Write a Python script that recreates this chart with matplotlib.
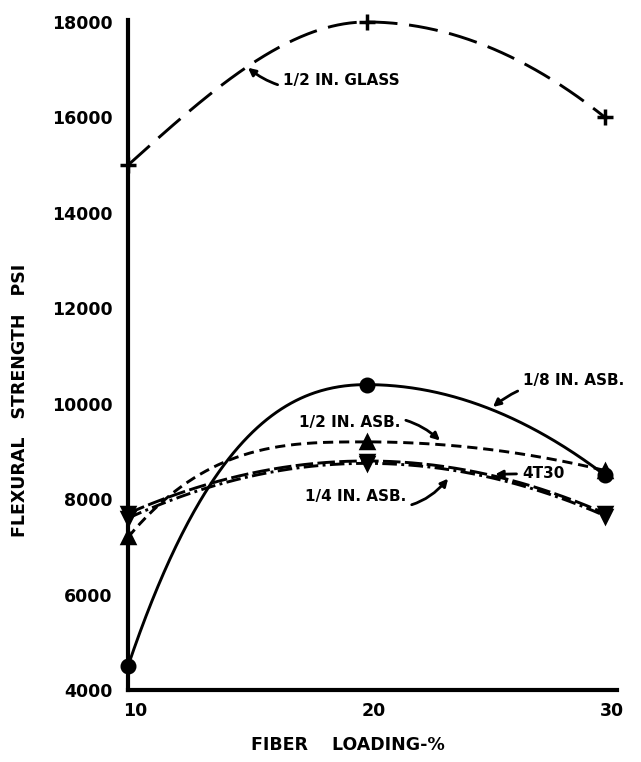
import matplotlib
matplotlib.use("Agg")
import matplotlib.pyplot as plt
import matplotlib.transforms as mtransforms
import numpy as np

# fiber loading (%) and flexural strength (psi)
loading = [10, 20, 30]
glass_half = [15000, 18000, 16000]
asb_eighth = [4500, 10400, 8500]
asb_half = [7200, 9200, 8600]
asb_quarter = [7600, 8750, 7650]
t4_30 = [7700, 8800, 7700]

y_ticks = [4000, 6000, 8000, 10000, 12000, 14000, 16000, 18000]
x_ticks = [10, 20, 30]


def smooth(xs, ys, bend, n=200):
    """Hermite curve through the points, flat at an interior peak."""
    xs = np.asarray(xs, float)
    ys = np.asarray(ys, float)
    sec = np.diff(ys) / np.diff(xs)
    slopes = np.zeros_like(ys)
    for i in range(1, len(xs) - 1):
        if sec[i - 1] * sec[i] > 0:
            slopes[i] = 2 * sec[i - 1] * sec[i] / (sec[i - 1] + sec[i])
    slopes[0] = bend[0] * sec[0]
    slopes[-1] = bend[1] * sec[-1]
    out_x, out_y = [], []
    for i in range(len(xs) - 1):
        h = xs[i + 1] - xs[i]
        t = np.linspace(0, 1, n)
        h00 = 2 * t**3 - 3 * t**2 + 1
        h10 = t**3 - 2 * t**2 + t
        h01 = -2 * t**3 + 3 * t**2
        h11 = t**3 - t**2
        out_x.append(xs[i] + t * h)
        out_y.append(h00 * ys[i] + h10 * h * slopes[i] + h01 * ys[i + 1] + h11 * h * slopes[i + 1])
    return np.concatenate(out_x), np.concatenate(out_y)


plt.rcParams["font.family"] = "DejaVu Sans"
plt.rcParams["font.weight"] = "bold"

fig = plt.figure(figsize=(6.41, 7.62), dpi=100)
ax = fig.add_axes([128 / 641, 72 / 762, 489 / 641, 670.4 / 762])

series = [
    (glass_half, "+", dict(dashes=(10, 4)), (1.5, 2.0)),
    (asb_eighth, "o", dict(linestyle="-"), (2.5, 2.0)),
    (asb_half, "^", dict(dashes=(3.5, 2)), (3.0, 2.0)),
    (t4_30, "v", dict(dashes=(6, 1.5)), (2.0, 2.0)),
    (asb_quarter, "v", dict(dashes=(5, 1.5, 1, 1.5)), (2.0, 2.0)),
]
for values, marker, style, bend in series:
    cx, cy = smooth(loading, values, bend)
    ax.plot(cx, cy, color="black", lw=2.1, clip_on=False, **style)
    ms = 11 if marker == "+" else 9
    ax.plot(loading, values, linestyle="none", marker=marker, color="black",
            markersize=ms, markeredgewidth=2.5, clip_on=False, zorder=4)

ax.set_xlim(10, 30.5)
ax.set_ylim(4000, 18050)
ax.set_xticks(x_ticks)
ax.set_yticks(y_ticks)
ax.set_xticklabels([str(v) for v in x_ticks], fontsize=12.5, fontweight="bold")
ax.set_yticklabels([str(v) for v in y_ticks], fontsize=12.5, fontweight="bold")
ax.tick_params(length=0)
ax.tick_params(axis="y", pad=11)
ax.tick_params(axis="x", pad=9)
shift = mtransforms.ScaledTranslation(5 / 72, 0, fig.dpi_scale_trans)
for lab in ax.get_xticklabels():
    lab.set_transform(lab.get_transform() + shift)
for side in ("top", "right"):
    ax.spines[side].set_visible(False)
for side in ("left", "bottom"):
    ax.spines[side].set_linewidth(3)

arrow = dict(arrowstyle="-|>", color="black", lw=2, mutation_scale=11,
             shrinkA=2, shrinkB=0)
labels = [
    ("1/2 IN. GLASS", (15.03, 17040), (16.5, 16765), -0.3),
    ("1/8 IN. ASB.", (25.3, 9932), (26.56, 10477), 0.2),
    ("1/2 IN. ASB.", (23.08, 9230), (17.17, 9596), -0.3),
    ("4T30", (25.39, 8520), (26.52, 8540), 0.0),
    ("1/4 IN. ASB.", (23.42, 8430), (17.42, 8045), 0.4),
]
for text, tip, pos, rad in labels:
    ax.annotate(text, xy=tip, xytext=pos, ha="left", va="center",
                fontsize=11, fontweight="bold",
                arrowprops=dict(arrow, connectionstyle=f"arc3,rad={rad}"))

fig.text(348 / 641, 1 - 745 / 762, "FIBER    LOADING-%", ha="center", va="center",
         fontsize=12.5, fontweight="bold")
fig.text(20 / 641, 1 - 400 / 762, "FLEXURAL   STRENGTH   PSI", ha="center", va="center",
         rotation=90, fontsize=12.5, fontweight="bold")

fig.savefig("out.png", dpi=100)
